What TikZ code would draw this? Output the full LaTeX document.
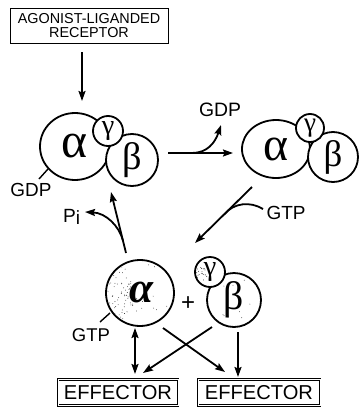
\documentclass[tikz,border=0pt]{standalone}
\usepackage{fontspec}
\setmainfont{Liberation Sans}
\newfontfamily\grk{Liberation Serif}
\usetikzlibrary{shapes.geometric,arrows.meta,calc}
\newcommand\fitw[2]{\resizebox{#1}{!}{#2}}
\newcommand\fith[2]{\resizebox{!}{#1}{#2}}
\begin{document}
\begin{tikzpicture}[x=1pt,y=-1pt,
  lw/.style={line width=1.8pt},
  tip/.tip={Stealth[length=10pt,width=7pt,inset=1.5pt]},
  arr/.style={lw,-tip},
  darr/.style={lw,tip-tip},
  tick/.style={line width=1.4pt},
  sub/.style={ellipse,draw,lw,fill=white,inner sep=0pt},
  ball/.style={circle,draw,lw,fill=white,inner sep=0pt},
  lab/.style={font=\fontsize{18}{18}\selectfont,inner sep=0pt},
  ebox/.style={draw,double,double distance=0.9pt,line width=0.8pt,
    font=\fontsize{20}{20}\selectfont,inner sep=0pt,minimum height=26pt},
  gk/.style={font=\grk\fontsize{30}{30}\selectfont,inner sep=0pt}
]
\useasboundingbox (0,0) rectangle (359,407);

% receptor
\node[draw,line width=1pt,minimum width=158pt,minimum height=35pt,align=center,
  inner sep=0pt,font=\fontsize{14.4}{14}\selectfont] (rec) at (89,25.5)
  {AGONIST-LIGANDED\\RECEPTOR};
\coordinate (r1) at (82,52);
\coordinate (r2) at (82,101);
\draw[arr] (r1) -- (r2);

% complex 1
\node[sub,minimum width=70pt,minimum height=67pt] (a1) at (75,146.5) {};
\node[gk] (al1) at (a1) {\fitw{26pt}{α}};
\node[ball,minimum size=52pt,gk] (b1) at (132,160) {\fith{27pt}{β}};
\node[ball,minimum size=30pt,gk] (g1) at (108,131) {\fitw{12.5pt}{γ}};
\node[lab] (gdp1) at (31,190) {\fitw{41pt}{GDP}};
\coordinate (t1a) at (39,179);
\coordinate (t1b) at (48,169);
\draw[tick] (t1a) -- (t1b);

% step to complex 2
\coordinate (h1) at (168,153);
\coordinate (h2) at (233,153);
\draw[arr] (h1) -- (h2);
\coordinate (gb) at (192,153);
\coordinate (gt) at (221,125);
\draw[arr] (gb) .. controls (207,153) and (215,143) .. (gt);
\node[lab] (gdp2) at (220,110) {\fitw{42pt}{GDP}};

% complex 2
\node[sub,minimum width=68pt,minimum height=58pt] (a2) at (276,149) {};
\node[gk] (al2) at (a2) {\fitw{25pt}{α}};
\node[ball,minimum size=50pt,gk] (b2) at (333,157) {\fith{26pt}{β}};
\node[ball,minimum size=28pt,gk] (g2) at (310,128) {\fitw{12pt}{γ}};

% GTP exchange
\coordinate (d1) at (252,187);
\coordinate (d2) at (195,243);
\draw[arr] (d1) -- (d2);
\coordinate (db) at ($(d1)!0.48!(d2)$);
\coordinate (de) at (263,209);
\draw[lw] (db) .. controls (234,203) and (250,201) .. (de);
\node[lab] (gtp1) at (286,213) {\fitw{39pt}{GTP}};

% dissociated
\node[sub,minimum width=68pt,minimum height=66pt] (a3) at (140,293) {};
\begin{scope}
  \clip (140,293) ellipse [x radius=32.5, y radius=31.5];
  \pgfmathsetseed{7}
  \foreach \k in {1,...,55} {
    \pgfmathsetmacro\ang{120+120*rnd}
    \pgfmathsetmacro\rad{10+23*rnd}
    \fill (140,293) ++(\ang:\rad) circle (0.4);
  }
  \foreach \k in {1,...,20} {
    \pgfmathsetmacro\ang{360*rnd}
    \pgfmathsetmacro\rad{5+28*rnd}
    \fill (140,293) ++(\ang:\rad) circle (0.4);
  }
\end{scope}
\node[gk,font=\grk\bfseries\itshape\fontsize{30}{30}\selectfont] (al3) at (141,292) {\fitw{24pt}{α}};
\node[lab] (gtp2) at (91,335) {\fitw{38pt}{GTP}};
\coordinate (t3a) at (100,322);
\coordinate (t3b) at (110,313);
\draw[tick] (t3a) -- (t3b);

\coordinate (u1) at (126,253);
\coordinate (u2) at (111,192);
\draw[arr] (u1) -- (u2);
\coordinate (pb) at ($(u1)!0.21!(u2)$);
\coordinate (pt) at (85,212);
\draw[arr] (pb) .. controls (119,226) and (106,213) .. (pt);
\node[lab] (pi) at (71.5,217) {\fitw{17pt}{P\raisebox{-2pt}{i}}};

\node[lab] (plus) at (188,304) {\fitw{14pt}{+}};

\node[ball,minimum size=54pt,gk] (b3) at (234,300) {\fith{28pt}{β}};
\begin{scope}
  \clip (234,300) circle (26);
  \pgfmathsetseed{11}
  \foreach \k in {1,...,12} {
    \pgfmathsetmacro\ang{360*rnd}
    \pgfmathsetmacro\rad{6+18*rnd}
    \fill (234,300) ++(\ang:\rad) circle (0.4);
  }
\end{scope}
\node[ball,minimum size=30pt,gk] (g3) at (210,272) {\fitw{12.5pt}{γ}};
\begin{scope}
  \clip (210,272) circle (14);
  \pgfmathsetseed{5}
  \foreach \k in {1,...,20} {
    \pgfmathsetmacro\ang{120+120*rnd}
    \pgfmathsetmacro\rad{5+9*rnd}
    \fill (210,272) ++(\ang:\rad) circle (0.4);
  }
\end{scope}

% effectors
\node[ebox,minimum width=120pt] (e1) at (118,392.5) {\fitw{108pt}{EFFECTOR}};
\node[ebox,minimum width=122pt] (e2) at (259,392.5) {\fitw{108pt}{EFFECTOR}};

\coordinate (v1) at (135,328);
\coordinate (v2) at (135,374);
\draw[darr] (v1) -- (v2);
\coordinate (w1) at (238,332);
\coordinate (w2) at (238,377);
\draw[arr] (w1) -- (w2);
\coordinate (x1) at (163,328);
\coordinate (x2) at (225,372);
\draw[arr] (x1) -- (x2);
\coordinate (y1) at (212,327);
\coordinate (y2) at (143,373);
\draw[arr] (y1) -- (y2);
\end{tikzpicture}
\end{document}
